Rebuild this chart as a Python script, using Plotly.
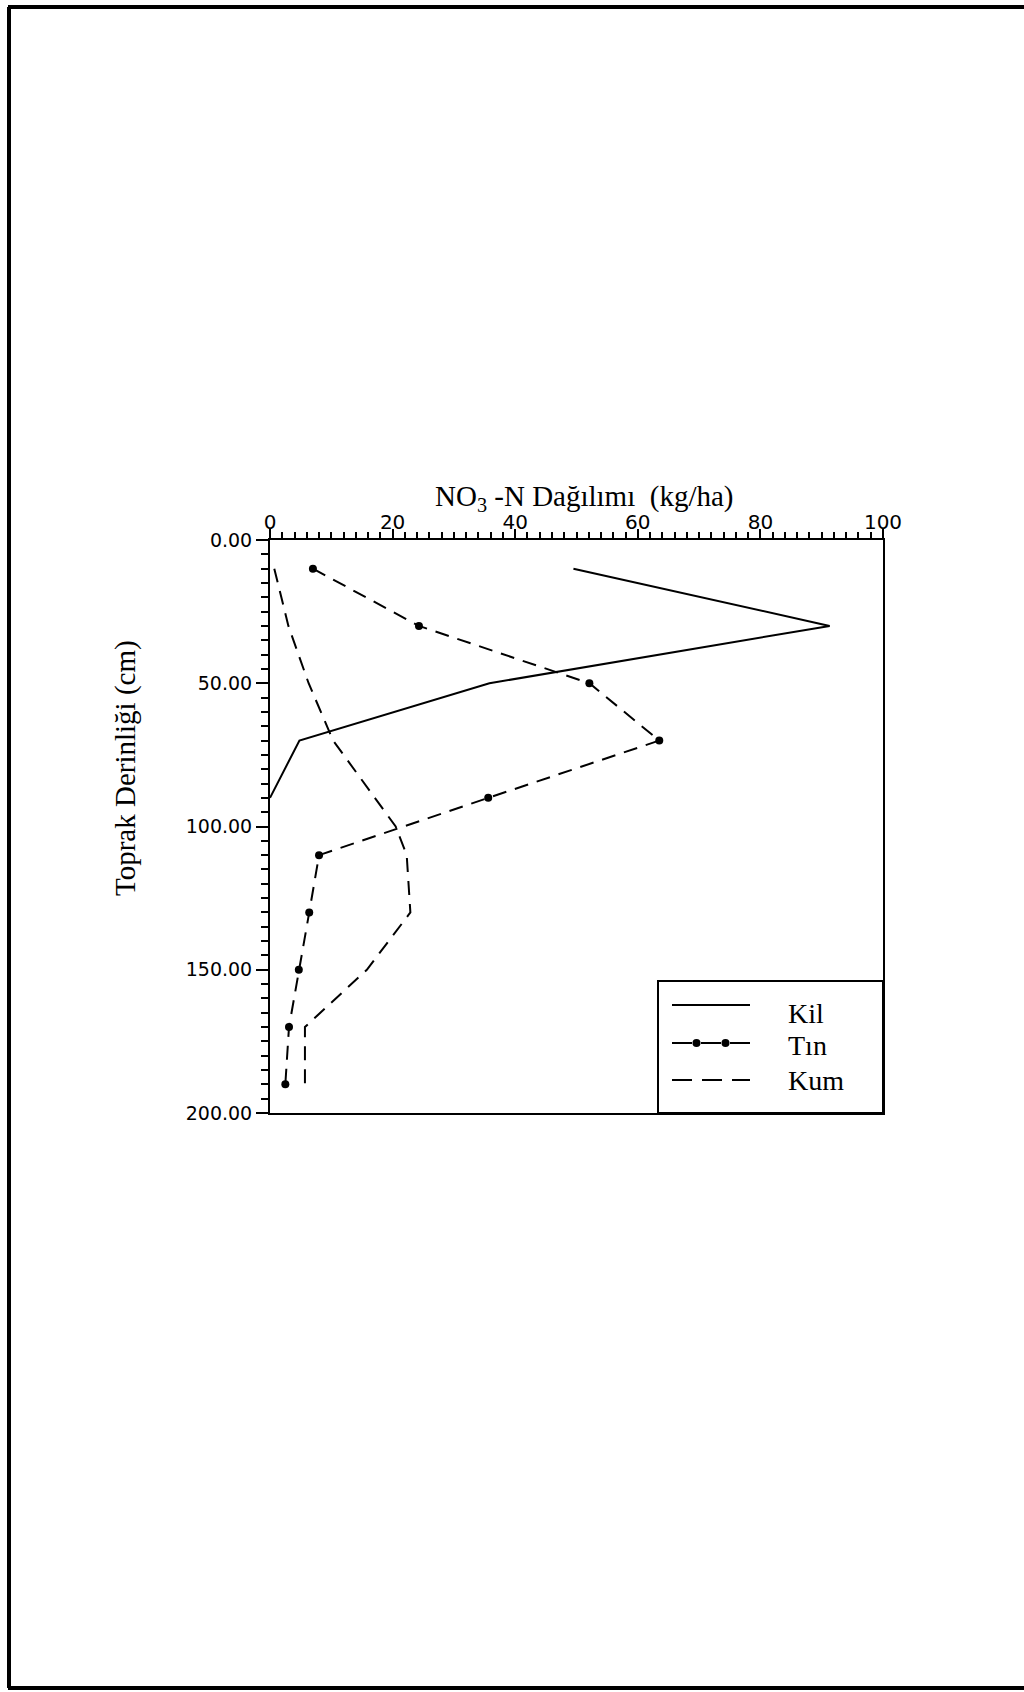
import plotly.graph_objects as go

# ---- data ----
kil_depth = [10, 30, 50, 70, 90]
kil_no3 = [49.5, 91.3, 35.8, 4.8, 0.0]

tin_depth = [10, 30, 50, 70, 90, 110, 130, 150, 170, 190]
tin_no3 = [7.0, 24.3, 52.1, 63.5, 35.6, 8.0, 6.4, 4.7, 3.1, 2.5]

kum_depth = [10, 30, 50, 70, 100, 110, 130, 150, 170, 190]
kum_no3 = [0.7, 3.0, 6.3, 10.3, 20.5, 22.3, 22.9, 15.8, 5.7, 5.7]

x_ticks = [0, 20, 40, 60, 80, 100]
y_ticks = [0, 50, 100, 150, 200]
y_tick_labels = ["0.00", "50.00", "100.00", "150.00", "200.00"]

legend_names = ["Kil", "Tın", "Kum"]

SERIF = "Liberation Serif"
SANS = "DejaVu Sans"

# plot-area geometry in pixels
W, H = 1024, 1692
L, R, T, B = 270, 141, 540, 579
PW, PH = W - L - R, H - T - B


def px(xp):
    return (xp - L) / PW


def py(yp):
    return (H - B - yp) / PH


fig = go.Figure()
fig.add_trace(go.Scatter(x=kil_no3, y=kil_depth, mode="lines", name="Kil",
                         line=dict(color="black", width=2), showlegend=False))
fig.add_trace(go.Scatter(x=tin_no3, y=tin_depth, mode="lines+markers", name="Tın",
                         line=dict(color="black", width=2, dash="14px,9px"),
                         marker=dict(color="black", size=8), showlegend=False))
fig.add_trace(go.Scatter(x=kum_no3, y=kum_depth, mode="lines", name="Kum",
                         line=dict(color="black", width=2, dash="14px,9px"), showlegend=False))

fig.update_layout(
    width=W, height=H,
    margin=dict(l=L, r=R, t=T, b=B),
    paper_bgcolor="white", plot_bgcolor="white",
    font=dict(family=SANS, color="black"),
)

fig.update_xaxes(
    side="top", range=[0, 100], tickvals=x_ticks, ticktext=[str(v) for v in x_ticks],
    ticks="outside", ticklen=9, tickwidth=2, tickcolor="black",
    minor=dict(dtick=2, ticks="outside", ticklen=6, tickwidth=1.5, tickcolor="black"),
    showline=True, linecolor="black", linewidth=2, mirror=True,
    showgrid=False, zeroline=False, ticklabelstandoff=-8,
    tickfont=dict(family=SANS, size=20, color="black"),
)
fig.update_yaxes(
    range=[200, 0], tickvals=y_ticks, ticktext=y_tick_labels,
    ticks="outside", ticklen=12, tickwidth=2, tickcolor="black",
    minor=dict(dtick=5, ticks="outside", ticklen=7, tickwidth=1.5, tickcolor="black"),
    showline=True, linecolor="black", linewidth=2, mirror=True,
    showgrid=False, zeroline=False,
    tickfont=dict(family=SANS, size=19, color="black"),
)

# axis titles as annotations
fig.add_annotation(text="NO<sub>3</sub> -N Dağılımı  (kg/ha)", xref="paper", yref="paper",
                   x=px(584), y=py(498), showarrow=False, xanchor="center", yanchor="middle",
                   font=dict(family=SERIF, size=29, color="black"))
fig.add_annotation(text="Toprak Derinliği (cm)", xref="paper", yref="paper",
                   x=px(125), y=py(768), showarrow=False, xanchor="center", yanchor="middle",
                   textangle=-90, font=dict(family=SERIF, size=29, color="black"))

# legend box (lower right inside the plot)
fig.add_shape(type="rect", xref="paper", yref="paper", x0=px(658), x1=1.0, y0=0.0, y1=py(981),
              line=dict(color="black", width=2), fillcolor="white", layer="above")
rows_line = [1005, 1043, 1080]
rows_text = [1013, 1045, 1080]
dashes = ["solid", "20px,9px", "20px,10px"]
for name, rl, rt, dsh in zip(legend_names, rows_line, rows_text, dashes):
    fig.add_shape(type="line", xref="paper", yref="paper", x0=px(672), x1=px(750),
                  y0=py(rl), y1=py(rl),
                  line=dict(color="black", width=2, dash=dsh), layer="above")
    fig.add_annotation(text=name, xref="paper", yref="paper", x=px(786), y=py(rt),
                       showarrow=False, xanchor="left", yanchor="middle",
                       font=dict(family=SERIF, size=28, color="black"))
# markers on the Tın legend sample
for mx in [696.5, 725.5]:
    fig.add_shape(type="circle", xref="paper", yref="paper",
                  x0=px(mx - 4), x1=px(mx + 4), y0=py(rows_line[1] + 4), y1=py(rows_line[1] - 4),
                  fillcolor="black", line=dict(color="black", width=0), layer="above")

# page frame of the scanned page
fig.add_shape(type="line", xref="paper", yref="paper", x0=px(8), x1=px(1024), y0=py(7), y1=py(7),
              line=dict(color="black", width=4))
fig.add_shape(type="line", xref="paper", yref="paper", x0=px(9), x1=px(9), y0=py(7), y1=py(1688),
              line=dict(color="black", width=4))
fig.add_shape(type="line", xref="paper", yref="paper", x0=px(8), x1=px(1024), y0=py(1688), y1=py(1688),
              line=dict(color="black", width=4))

fig.write_html("out.html")
